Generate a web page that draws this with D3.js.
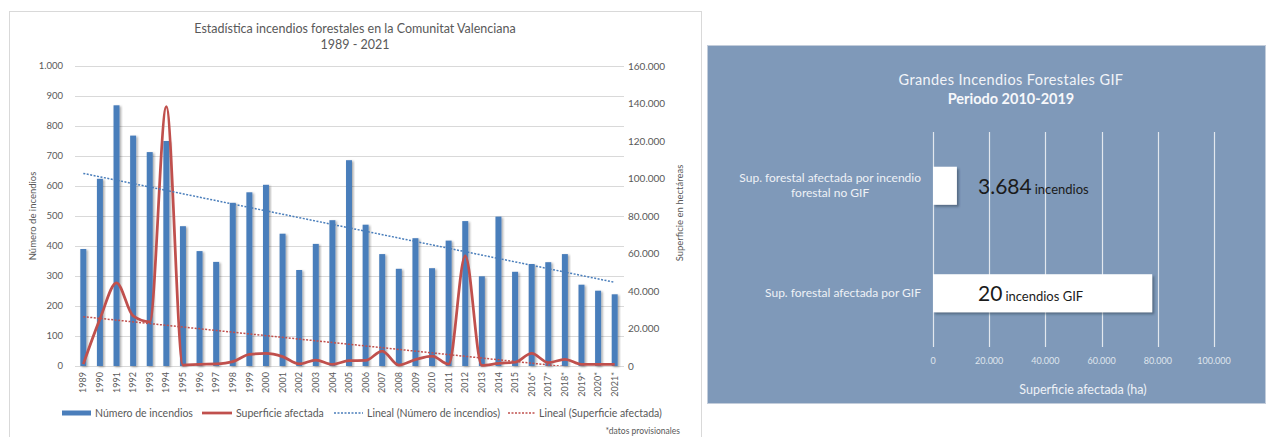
<!DOCTYPE html>
<html>
<head>
<meta charset="utf-8">
<script src="https://cdn.jsdelivr.net/npm/d3@7"></script>
<style>
body { margin: 0; background: #fff; }
svg { display: block; font-family: Lato, "Open Sans", sans-serif; }
</style>
</head>
<body>
<svg id="mysvg"></svg>
<script>
// ---- data: left chart ----
const years = ["1989","1990","1991","1992","1993","1994","1995","1996","1997","1998",
    "1999","2000","2001","2002","2003","2004","2005","2006","2007","2008",
    "2009","2010","2011","2012","2013","2014","2015","2016*","2017*","2018*",
    "2019*","2020*","2021*"];
const numIncendios = [390, 624, 869, 768, 713, 750, 466, 383, 347, 544,
    579, 604, 441, 320, 407, 486, 686, 471, 373, 324,
    426, 326, 418, 483, 299, 498, 314, 340, 346, 373,
    271, 251, 239];
const superficie = [1000, 25000, 44400, 26700, 23600, 138300, 500, 900, 1100, 2300,
    6200, 6700, 5000, 1100, 3200, 900, 2850, 3000, 8000, 500,
    3400, 5300, 1000, 58700, 350, 1400, 2000, 6700, 1800, 3550,
    900, 900, 900];
// trend lines, values read at first and last year
const trendNumero = [642, 279];
const trendSuperficie = [26300, -3100];
const leftTicks = [0, 100, 200, 300, 400, 500, 600, 700, 800, 900, 1000];
const rightTicks = [0, 20000, 40000, 60000, 80000, 100000, 120000, 140000, 160000];

// ---- data: right chart ----
const gifCats = ["noGIF", "GIF"];
const gifLabels = [["Sup. forestal afectada por incendio", "forestal no GIF"], ["Sup. forestal afectada por GIF"]];
const gifSuperficie = [8500, 78000];
const gifNumero = ["3.684", "20"];
const gifUnidad = ["incendios", "incendios GIF"];
const gifTicks = [0, 20000, 40000, 60000, 80000, 100000];

const w = 1266, h = 437;
const fmt = d3.formatLocale({decimal: ",", thousands: ".", grouping: [3], currency: ["", "€"]}).format(",d");
const grey = "#595959";
const blue = "#4a7ebb", red = "#c0504d";

const svg = d3.select("#mysvg")
    .attr("width", w)
    .attr("height", h);

const defs = svg.append("defs");
const sh = defs.append("filter").attr("id", "shadow")
    .attr("x", "-50%").attr("y", "-10%").attr("width", "200%").attr("height", "130%");
sh.append("feDropShadow").attr("dx", 1.5).attr("dy", 1).attr("stdDeviation", 1)
    .attr("flood-color", "#000").attr("flood-opacity", 0.35);
const sh2 = defs.append("filter").attr("id", "shadow2")
    .attr("x", "-10%").attr("y", "-20%").attr("width", "130%").attr("height", "160%");
sh2.append("feDropShadow").attr("dx", 2).attr("dy", 2).attr("stdDeviation", 1.2)
    .attr("flood-color", "#2a3a50").attr("flood-opacity", 0.5);
defs.append("clipPath").attr("id", "plotclip")
    .append("rect").attr("x", 70).attr("y", 60).attr("width", 560).attr("height", 306);

// ================= left chart =================
const left = svg.append("g");

left.append("rect")
    .attr("x", 9.5).attr("y", 11.5)
    .attr("width", 692).attr("height", 440)
    .attr("fill", "#fff").attr("stroke", "#d9d9d9");

const xScale = d3.scaleBand()
    .domain(years)
    .range([75, 623])
    .paddingInner(0.64)
    .paddingOuter(0.32);
const cx = d => xScale(d) + xScale.bandwidth() / 2;

const yLeft = d3.scaleLinear().domain([0, 1000]).range([366, 66]);
const yRight = d3.scaleLinear().domain([0, 160000]).range([366, 66]);

// gridlines
left.selectAll(".grid")
    .data(leftTicks)
    .enter().append("line")
    .attr("x1", 75).attr("x2", 624)
    .attr("y1", d => Math.round(yLeft(d)) + 0.5)
    .attr("y2", d => Math.round(yLeft(d)) + 0.5)
    .attr("stroke", "#d9d9d9");

// Y axes
left.selectAll(".ltick")
    .data(leftTicks)
    .enter().append("text")
    .attr("x", 63).attr("y", d => yLeft(d))
    .attr("dy", "0.35em")
    .attr("text-anchor", "end")
    .attr("font-size", 9.5)
    .attr("fill", grey)
    .text(d => fmt(d));

left.selectAll(".rtick")
    .data(rightTicks)
    .enter().append("text")
    .attr("x", 628).attr("y", d => yRight(d))
    .attr("dy", "0.35em")
    .attr("font-size", 10)
    .attr("fill", grey)
    .text(d => fmt(d));

left.append("text")
    .attr("transform", "translate(33,216) rotate(-90)")
    .attr("text-anchor", "middle").attr("dy", "0.35em")
    .attr("font-size", 9.5).attr("fill", grey)
    .text("Número de incendios");

left.append("text")
    .attr("transform", "translate(680,213) rotate(-90)")
    .attr("text-anchor", "middle").attr("dy", "0.35em")
    .attr("font-size", 9.5).attr("fill", grey)
    .text("Superficie en hectáreas");

// title
left.append("text")
    .attr("x", 355).attr("y", 29).attr("dy", "0.35em")
    .attr("text-anchor", "middle")
    .attr("font-size", 12.5).attr("fill", grey)
    .text("Estadística incendios forestales en la Comunitat Valenciana");
left.append("text")
    .attr("x", 355).attr("y", 45).attr("dy", "0.35em")
    .attr("text-anchor", "middle")
    .attr("font-size", 12.5).attr("fill", grey)
    .text("1989 - 2021");

// bars
left.selectAll(".bar")
    .data(numIncendios)
    .enter().append("rect")
    .attr("x", (d, i) => xScale(years[i]))
    .attr("y", d => yLeft(d))
    .attr("width", xScale.bandwidth())
    .attr("height", d => yLeft(0) - yLeft(d))
    .attr("fill", blue)
    .attr("filter", "url(#shadow)");

// X axis labels
left.selectAll(".xlab")
    .data(years)
    .enter().append("text")
    .attr("transform", d => "translate(" + cx(d) + ",372) rotate(-90)")
    .attr("text-anchor", "end")
    .attr("dy", "0.35em")
    .attr("font-size", 9)
    .attr("fill", grey)
    .text(d => d);

// superficie line
const line = d3.line()
    .x((d, i) => cx(years[i]))
    .y(d => yRight(d))
    .curve(d3.curveMonotoneX);

left.append("path")
    .datum(superficie)
    .attr("fill", "none")
    .attr("stroke", red)
    .attr("stroke-width", 2.75)
    .attr("stroke-linejoin", "round")
    .attr("d", line);

// trend lines
const ends = [years[0], years[years.length - 1]];
left.append("line")
    .attr("x1", cx(ends[0])).attr("x2", cx(ends[1]))
    .attr("y1", yLeft(trendNumero[0])).attr("y2", yLeft(trendNumero[1]))
    .attr("stroke", blue).attr("stroke-width", 1.5)
    .attr("stroke-dasharray", "2,1.5");

left.append("line")
    .attr("clip-path", "url(#plotclip)")
    .attr("x1", cx(ends[0])).attr("x2", cx(ends[1]))
    .attr("y1", yRight(trendSuperficie[0])).attr("y2", yRight(trendSuperficie[1]))
    .attr("stroke", red).attr("stroke-width", 1.5)
    .attr("stroke-dasharray", "2,1.5");

// legend
const lg = left.append("g").attr("font-size", 10.5).attr("fill", grey);
lg.append("rect").attr("x", 62).attr("y", 410.5).attr("width", 29).attr("height", 5).attr("fill", blue);
lg.append("text").attr("x", 95).attr("y", 413).attr("dy", "0.35em").text("Número de incendios");
lg.append("line").attr("x1", 202).attr("x2", 232).attr("y1", 413).attr("y2", 413)
    .attr("stroke", red).attr("stroke-width", 2.75);
lg.append("text").attr("x", 236).attr("y", 413).attr("dy", "0.35em").text("Superficie afectada");
lg.append("line").attr("x1", 334).attr("x2", 363).attr("y1", 413).attr("y2", 413)
    .attr("stroke", blue).attr("stroke-width", 1.5).attr("stroke-dasharray", "2,1.5");
lg.append("text").attr("x", 367).attr("y", 413).attr("dy", "0.35em").text("Lineal (Número de incendios)");
lg.append("line").attr("x1", 508).attr("x2", 536).attr("y1", 413).attr("y2", 413)
    .attr("stroke", red).attr("stroke-width", 1.5).attr("stroke-dasharray", "2,1.5");
lg.append("text").attr("x", 539).attr("y", 413).attr("dy", "0.35em").text("Lineal (Superficie afectada)");

left.append("text")
    .attr("x", 680).attr("y", 434)
    .attr("text-anchor", "end")
    .attr("font-size", 8.5).attr("fill", grey)
    .text("*datos provisionales");

// ================= right chart =================
const right = svg.append("g");

right.append("rect")
    .attr("x", 707.5).attr("y", 45.5)
    .attr("width", 558).attr("height", 358)
    .attr("fill", "#7f99b9")
    .attr("stroke", "#c3cddb");

const gx = d3.scaleLinear().domain([0, 100000]).range([933, 1214]);
const gy = d3.scaleBand().domain(gifCats).range([132, 347])
    .paddingInner(0.646).paddingOuter(0.323);

right.selectAll(".ggrid")
    .data(gifTicks)
    .enter().append("line")
    .attr("x1", d => Math.round(gx(d)) + 0.5)
    .attr("x2", d => Math.round(gx(d)) + 0.5)
    .attr("y1", 132).attr("y2", 347)
    .attr("stroke", "#e2e7ee").attr("stroke-width", 1.2);

right.selectAll(".gtick")
    .data(gifTicks)
    .enter().append("text")
    .attr("x", d => gx(d)).attr("y", 361)
    .attr("dy", "0.35em")
    .attr("text-anchor", "middle")
    .attr("font-size", 9)
    .attr("fill", "#dfe5ed")
    .text(d => fmt(d));

right.append("text")
    .attr("x", 1083).attr("y", 390).attr("dy", "0.35em")
    .attr("text-anchor", "middle")
    .attr("font-size", 12.5).attr("fill", "#eef1f6")
    .text("Superficie afectada (ha)");

right.append("text")
    .attr("x", 1011).attr("y", 80).attr("dy", "0.35em")
    .attr("text-anchor", "middle")
    .attr("font-size", 14.5).attr("letter-spacing", 0.4)
    .attr("fill", "#f2f4f8")
    .text("Grandes Incendios Forestales GIF");
right.append("text")
    .attr("x", 1011).attr("y", 99).attr("dy", "0.35em")
    .attr("text-anchor", "middle")
    .attr("font-size", 14.5).attr("font-weight", "bold")
    .attr("fill", "#f7f8fb")
    .text("Periodo 2010-2019");

right.selectAll(".gbar")
    .data(gifSuperficie)
    .enter().append("rect")
    .attr("x", gx(0))
    .attr("y", (d, i) => gy(gifCats[i]))
    .attr("width", d => gx(d) - gx(0))
    .attr("height", gy.bandwidth())
    .attr("fill", "#fff")
    .attr("filter", "url(#shadow2)");

// category labels, wrapped lines centred in a right-aligned box
gifCats.forEach((c, i) => {
    const cy = gy(c) + gy.bandwidth() / 2;
    const lines = gifLabels[i];
    const g = right.append("g");
    const t = g.selectAll("text")
        .data(lines)
        .enter().append("text")
        .attr("y", (d, k) => cy + (k - (lines.length - 1) / 2) * 15)
        .attr("dy", "0.35em")
        .attr("text-anchor", "middle")
        .attr("font-size", 12)
        .attr("fill", "#eef1f6")
        .text(d => d);
    let maxW = 0;
    t.each(function () { maxW = Math.max(maxW, this.getComputedTextLength()); });
    t.attr("x", 921 - maxW / 2);

    const lab = right.append("text")
        .attr("x", gx(0) + 45)
        .attr("y", cy + 8)
        .attr("fill", "#1b1b1b");
    lab.append("tspan").attr("font-size", 21).text(gifNumero[i]);
    lab.append("tspan").attr("font-size", 13).attr("dx", 3).text(gifUnidad[i]);
});
</script>
</body>
</html>
